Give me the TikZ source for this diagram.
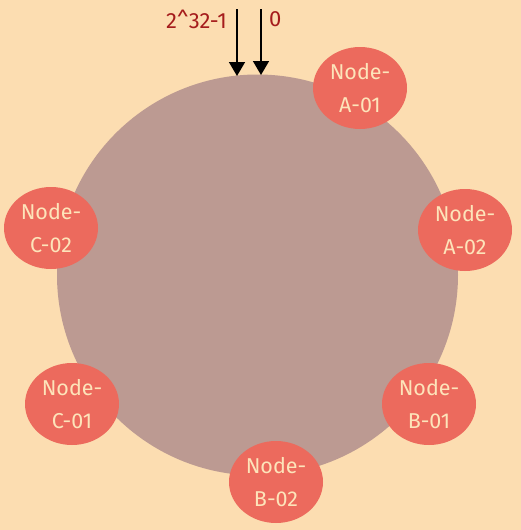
\documentclass[tikz,border=0pt]{standalone}
\usepackage{fontspec}
\setmainfont{Fira Sans}
\usepackage{tikz}
\usetikzlibrary{arrows.meta,shapes.geometric}
\definecolor{paper}{HTML}{FCDDB1}
\definecolor{ringfill}{HTML}{BC9A92}
\definecolor{nodered}{HTML}{EC6A5D}
\definecolor{nodetext}{HTML}{FDE4BA}
\definecolor{markred}{HTML}{A51C1C}

\begin{document}
\begin{tikzpicture}[
  x=1pt,y=-1pt,
  vnode/.style={ellipse,fill=nodered,minimum width=94pt,minimum height=82pt,
    inner sep=0pt,align=center,text=nodetext,
    font=\fontsize{21.5}{33}\selectfont},
  pointer/.style={-{Triangle[length=14pt,width=16pt]},line width=1.6pt,draw=black},
  hashlabel/.style={text=markred,font=\fontsize{22}{24}\selectfont,inner sep=0pt}
]
  \fill[paper] (0,0) rectangle (521,530);
  \useasboundingbox (0,0) rectangle (521,530);

  % the hash ring
  \node[circle,fill=ringfill,minimum size=401pt,inner sep=0pt] (ring) at (257.5,275) {};

  % virtual nodes on the ring
  \node[vnode] (nodeA1) at (360,88) {Node-\\A-01};
  \node[vnode] (nodeA2) at (465,230) {Node-\\A-02};
  \node[vnode] (nodeB1) at (429,404) {Node-\\B-01};
  \node[vnode] (nodeB2) at (276,482) {Node-\\B-02};
  \node[vnode] (nodeC1) at (72,404) {Node-\\C-01};
  \node[vnode] (nodeC2) at (51,228) {Node-\\C-02};

  % both ends of the hash space
  \coordinate (maxstart) at (237,9);
  \coordinate (maxend) at (237,76);
  \coordinate (zerostart) at (261,9);
  \coordinate (zeroend) at (261,75);
  \draw[pointer] (maxstart) -- (maxend);
  \draw[pointer] (zerostart) -- (zeroend);
  \node[hashlabel,anchor=east] (maxlabel) at (227,19) {2\textasciicircum 32-1};
  \node[hashlabel,anchor=west] (zerolabel) at (269,19) {0};
\end{tikzpicture}
\end{document}
